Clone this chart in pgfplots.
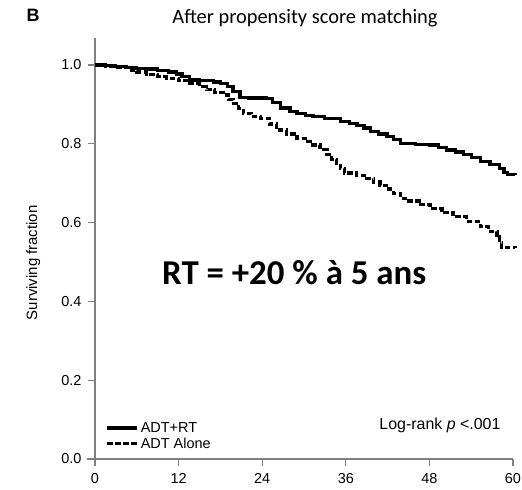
\documentclass[border=0pt]{standalone}
\usepackage{pgfplots}
\pgfplotsset{compat=1.18}
\usepackage{fontspec}
\setmainfont{Liberation Sans}
\newfontfamily\arial{Liberation Sans}
\newfontfamily\calibri{Carlito}
\definecolor{axgray}{HTML}{808080}
\begin{document}
\begin{tikzpicture}
\useasboundingbox (0,0) rectangle (522bp,490bp);
\node[font=\arial\bfseries\fontsize{18}{19}\selectfont] at (33bp,475bp) {B};
\node[font=\calibri\fontsize{20.5}{22}\selectfont] at (305bp,472bp) {After propensity score matching};
\begin{axis}[
  at={(95bp,31bp)}, anchor=south west,
  scale only axis, width=418bp, height=421bp,
  xmin=0, xmax=60, ymin=0, ymax=1.0685,
  axis x line=bottom, axis y line=left,
  axis line style={axgray, line width=1.6bp, -},
  xtick={0,12,24,36,48,60},
  ytick={0,0.2,0.4,0.6,0.8,1.0},
  yticklabel style={xshift=-3bp, /pgf/number format/.cd, fixed, fixed zerofill, precision=1},
  /pgf/number format/assume math mode=true,
  tick style={axgray, line width=1.2bp},
  tick align=outside, major tick length=7bp,
  ticklabel style={font=\arial\fontsize{14.5}{15}\selectfont},
  xticklabel style={yshift=-4bp},
  ylabel={Surviving fraction},
  ylabel style={font=\arial\fontsize{15}{16}\selectfont, at={(axis description cs:-0.148,0.466)}, anchor=center, rotate=0},
  clip=false,
  legend style={draw=none, fill=none, at={(axis cs:1.5,0.018)}, anchor=south west,
    font=\arial\fontsize{14.5}{15}\selectfont, row sep=0bp, inner sep=0pt,
    /tikz/every even column/.append style={column sep=2bp}},
  legend cell align=left,
  legend image code/.code={\draw[#1] (0bp,0bp) -- (30bp,0bp);},
]
\draw[axgray, line width=1.6bp] (axis cs:-1.1,0) -- (axis cs:0,0);
\addplot[const plot, black, line width=3.2bp] coordinates {
(0,1.0) (1.5,0.998) (3,0.996) (4.5,0.993) (6,0.991) (7.5,0.990) (9,0.985)
(10.5,0.982) (11.7,0.977) (12.5,0.970) (13.6,0.962) (15,0.960) (17,0.957)
(18,0.952) (19,0.945) (19.8,0.933) (20.8,0.918) (22,0.916) (24.6,0.914)
(25.5,0.905) (26.6,0.891) (28,0.882) (29,0.877) (30.2,0.872) (31.3,0.869)
(33,0.864) (35.2,0.856) (36.5,0.852) (37.6,0.847) (38.6,0.840) (39.5,0.831)
(40.7,0.825) (41.9,0.818) (42.9,0.810) (43.8,0.800) (46,0.799) (48.1,0.797)
(49.3,0.790) (50.5,0.784) (51.7,0.779) (52.9,0.772) (54.1,0.765) (55.3,0.755)
(56.7,0.748) (58.1,0.738) (58.7,0.728) (59.2,0.723) (60.3,0.721)
};
\addlegendentry{ADT+RT}
\addplot[const plot, black, line width=3.2bp, dash pattern=on 5.5bp off 2.5bp] coordinates {
(0,1.0) (1.5,0.996) (3,0.993) (5,0.987) (6,0.982) (7.4,0.975) (9,0.970)
(10.3,0.966) (12,0.960) (13.6,0.953) (15,0.945) (16,0.937) (17.2,0.930)
(18.4,0.924) (19.2,0.913) (19.9,0.903) (20.6,0.890) (21.3,0.877) (22.5,0.870)
(23.7,0.865) (25,0.850) (26.1,0.835) (27.5,0.825) (29,0.814) (30.2,0.805)
(31.3,0.797) (32.3,0.785) (33.3,0.772) (34,0.760) (34.7,0.750) (35.2,0.738)
(35.8,0.726) (37.5,0.720) (39,0.712) (40,0.703) (40.9,0.695) (41.8,0.685)
(42.8,0.674) (43.8,0.662) (45,0.655) (46.5,0.645) (48.1,0.635) (49.8,0.625)
(51.4,0.615) (53.3,0.603) (55.3,0.590) (56.5,0.578) (57.7,0.564) (58.1,0.550)
(58.4,0.537) (60.3,0.535)
};
\addlegendentry{ADT Alone}
\node[anchor=east, font=\arial\fontsize{16}{17}\selectfont] at (axis cs:58.7,0.086) {Log-rank \textit{p} <.001};
\node[font=\calibri\bfseries\fontsize{35}{38}\selectfont] at (axis cs:28.6,0.472) {RT = +20 \% à 5 ans};
\end{axis}
\end{tikzpicture}
\end{document}
